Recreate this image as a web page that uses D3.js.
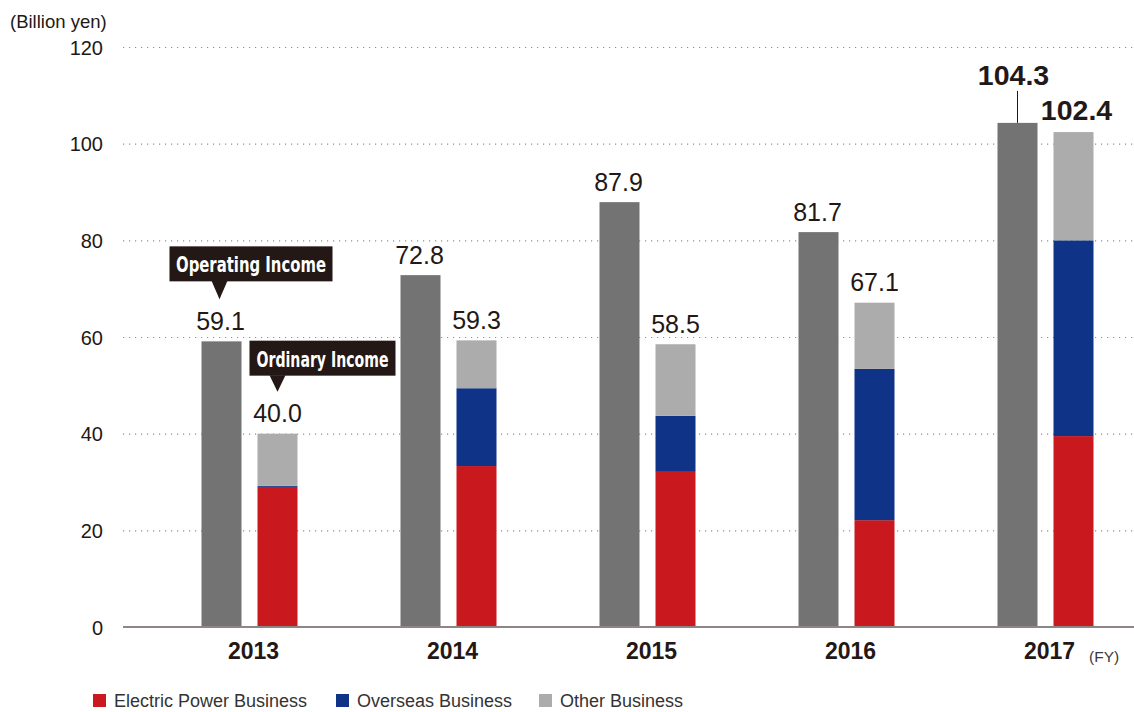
<!DOCTYPE html>
<html>
<head>
<meta charset="utf-8">
<script src="https://cdn.jsdelivr.net/npm/d3@7"></script>
<style>
  html, body { margin: 0; padding: 0; background: #fff; }
  svg { display: block; font-family: "Liberation Sans", Arial, Helvetica, sans-serif; }
</style>
</head>
<body>
<svg id="chart" width="1134" height="712"></svg>
<script>
// Fiscal years
const years = ["2013", "2014", "2015", "2016", "2017"];
// Operating income (billion yen)
const operatingIncome = [59.1, 72.8, 87.9, 81.7, 104.3];
// Ordinary income totals (billion yen)
const ordinaryIncome = [40.0, 59.3, 58.5, 67.1, 102.4];
// Ordinary income breakdown by segment (billion yen)
const electricPower = [29.0, 33.3, 32.1, 22.1, 39.5];
const overseas = [0.2, 16.1, 11.6, 31.3, 40.5];
const otherBusiness = [10.8, 9.9, 14.8, 13.7, 22.4];
// Axis ticks
const yTicks = [0, 20, 40, 60, 80, 100, 120];
// Segment names for legend / stacking
const segments = ["Electric Power Business", "Overseas Business", "Other Business"];

const colors = {
  operating: "#737373",
  "Electric Power Business": "#c9191f",
  "Overseas Business": "#0e3387",
  "Other Business": "#acacac"
};
const ink = "#231815";

const svg = d3.select("#chart");

const y = d3.scaleLinear().domain([0, 120]).range([627, 47]);
const x = d3.scaleBand().domain(years).range([150, 1145]).padding(0);
const inner = d3.scaleBand().domain(["op", "ord"]).range([51.5, 147.5]).paddingInner(16 / 56);

const plotLeft = 123, plotRight = 1134;

// Dotted gridlines
svg.append("g")
  .selectAll("line")
  .data(yTicks.filter(d => d > 0))
  .join("line")
  .attr("x1", plotLeft).attr("x2", plotRight)
  .attr("y1", d => y(d) + 0.5).attr("y2", d => y(d) + 0.5)
  .attr("stroke", "#8f8f8f")
  .attr("stroke-width", 1.2)
  .attr("stroke-dasharray", "1.2,4.8");

// Y axis labels
const yAxis = d3.axisLeft(y).tickValues(yTicks).tickSize(0).tickPadding(0).tickFormat(d3.format("d"));
const yg = svg.append("g").attr("transform", "translate(103,0)").call(yAxis);
yg.select(".domain").remove();
yg.selectAll("text")
  .attr("font-size", 20)
  .attr("fill", ink)
  .attr("dy", "0.36em")
  .attr("font-family", "Liberation Sans, Arial, sans-serif");

svg.append("text")
  .attr("x", 10).attr("y", 28)
  .attr("font-size", 18.5)
  .attr("fill", ink)
  .text("(Billion yen)");

// Operating income bars
svg.append("g")
  .selectAll("rect")
  .data(years)
  .join("rect")
  .attr("x", d => x(d) + inner("op"))
  .attr("width", inner.bandwidth())
  .attr("y", (d, i) => y(operatingIncome[i]))
  .attr("height", (d, i) => y(0) - y(operatingIncome[i]))
  .attr("fill", colors.operating);

// Stacked ordinary income bars
const table = years.map((yr, i) => ({
  year: yr,
  "Electric Power Business": electricPower[i],
  "Overseas Business": overseas[i],
  "Other Business": otherBusiness[i]
}));
const stacked = d3.stack().keys(segments)(table);

svg.append("g")
  .selectAll("g")
  .data(stacked)
  .join("g")
  .attr("fill", s => colors[s.key])
  .selectAll("rect")
  .data(s => s)
  .join("rect")
  .attr("x", d => x(d.data.year) + inner("ord"))
  .attr("width", inner.bandwidth())
  .attr("y", d => y(d[1]))
  .attr("height", d => y(d[0]) - y(d[1]));

// Baseline
svg.append("line")
  .attr("x1", plotLeft).attr("x2", plotRight)
  .attr("y1", y(0)).attr("y2", y(0))
  .attr("stroke", "#8c8686")
  .attr("stroke-width", 2);

// Value labels
const last = years.length - 1;
const fmt = d3.format(".1f");
const opCx = i => x(years[i]) + inner("op") + inner.bandwidth() / 2;
const ordCx = i => x(years[i]) + inner("ord") + inner.bandwidth() / 2;

years.forEach((yr, i) => {
  const isLast = i === last;
  if (isLast) {
    svg.append("line")
      .attr("x1", opCx(i)).attr("x2", opCx(i))
      .attr("y1", y(operatingIncome[i])).attr("y2", y(operatingIncome[i]) - 32)
      .attr("stroke", ink).attr("stroke-width", 1);
    svg.append("text")
      .attr("x", opCx(i) - 4).attr("y", y(operatingIncome[i]) - 38)
      .attr("text-anchor", "middle")
      .attr("font-size", 28.5).attr("font-weight", "bold")
      .attr("fill", ink)
      .text(fmt(operatingIncome[i]));
    svg.append("text")
      .attr("x", ordCx(i) + 3).attr("y", y(ordinaryIncome[i]) - 12)
      .attr("text-anchor", "middle")
      .attr("font-size", 28.5).attr("font-weight", "bold")
      .attr("fill", ink)
      .text(fmt(ordinaryIncome[i]));
  } else {
    svg.append("text")
      .attr("x", opCx(i) - 1).attr("y", y(operatingIncome[i]) - 11.5)
      .attr("text-anchor", "middle")
      .attr("font-size", 25)
      .attr("fill", ink)
      .text(fmt(operatingIncome[i]));
    svg.append("text")
      .attr("x", ordCx(i)).attr("y", y(ordinaryIncome[i]) - 11.5)
      .attr("text-anchor", "middle")
      .attr("font-size", 25)
      .attr("fill", ink)
      .text(fmt(ordinaryIncome[i]));
  }
});

// Year labels
svg.append("g")
  .selectAll("text")
  .data(years)
  .join("text")
  .attr("x", d => x(d) + x.bandwidth() / 2 + 4)
  .attr("y", 659)
  .attr("text-anchor", "middle")
  .attr("font-size", 23)
  .attr("font-weight", "bold")
  .attr("fill", ink)
  .text(d => d);

svg.append("text")
  .attr("x", 1089).attr("y", 662)
  .attr("font-size", 15.5)
  .attr("fill", "#3a3a3a")
  .text("(FY)");

// Callout boxes
function callout(label, left, top, w, h, tipX, tipY, textW) {
  const g = svg.append("g");
  g.append("rect")
    .attr("x", left).attr("y", top).attr("width", w).attr("height", h)
    .attr("fill", ink);
  g.append("path")
    .attr("d", `M${tipX - 8},${top + h - 0.5} L${tipX + 8},${top + h - 0.5} L${tipX},${tipY} Z`)
    .attr("fill", ink);
  g.append("text")
    .attr("x", left + w / 2).attr("y", top + h - 9)
    .attr("text-anchor", "middle")
    .attr("font-family", "'Liberation Sans Narrow', 'DejaVu Sans Condensed', 'Roboto', sans-serif")
    .attr("font-size", 22)
    .attr("font-weight", "bold")
    .attr("fill", "#ffffff")
    .attr("textLength", textW)
    .attr("lengthAdjust", "spacingAndGlyphs")
    .text(label);
}

const opTopY = y(operatingIncome[0]);
callout("Operating Income", opCx(0) - 52, opTopY - 95, 163, 35, opCx(0) - 2, opTopY - 42, 150);
const ordTopY = y(ordinaryIncome[0]);
callout("Ordinary Income", ordCx(0) - 28, ordTopY - 93, 146, 35, ordCx(0), ordTopY - 42, 132);

// Legend
const legendPos = [93, 336, 539];
const legend = svg.append("g")
  .selectAll("g")
  .data(segments)
  .join("g")
  .attr("transform", (d, i) => `translate(${legendPos[i]},694)`);
legend.append("rect")
  .attr("width", 13).attr("height", 13)
  .attr("fill", d => colors[d]);
legend.append("text")
  .attr("x", 21).attr("y", 13)
  .attr("font-size", 18)
  .attr("fill", "#333")
  .text(d => d);
</script>
</body>
</html>
